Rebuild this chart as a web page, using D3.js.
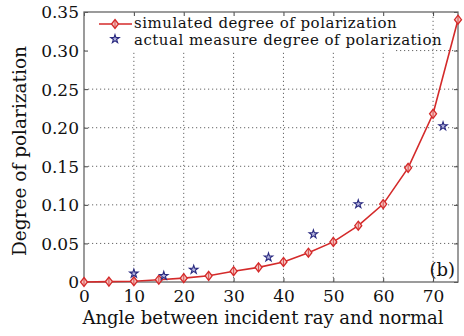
<!DOCTYPE html>
<html>
<head>
<meta charset="utf-8">
<script src="https://cdn.jsdelivr.net/npm/d3@7"></script>
<style>
  body { margin: 0; background: #fff; }
  svg text { font-family: "DejaVu Serif", serif; fill: #111; }
  .grid line { stroke: #555; stroke-dasharray: 1.2,2.8; stroke-width: 0.9; }
</style>
</head>
<body>
<div id="chart"></div>
<script>
var width = 464, height = 336;
var margin = {left: 84, right: 6, top: 12, bottom: 54};

// simulated curve, every 5 degrees
var sim_angle = [0, 5, 10, 15, 20, 25, 30, 35, 40, 45, 50, 55, 60, 65, 70, 75];
var sim_value = [0, 0.0005, 0.001, 0.003, 0.005, 0.008, 0.014, 0.019, 0.026, 0.038, 0.052, 0.073, 0.101, 0.148, 0.218, 0.34];

// measured points
var meas_angle = [10, 16, 22, 37, 46, 55, 72];
var meas_value = [0.011, 0.008, 0.016, 0.032, 0.062, 0.101, 0.202];

var x_ticks = [0, 10, 20, 30, 40, 50, 60, 70];
var y_ticks = [0, 0.05, 0.10, 0.15, 0.20, 0.25, 0.30, 0.35];

var legend_labels = ["simulated degree of polarization", "actual measure degree of polarization"];

var svg = d3.select("#chart").append("svg")
    .attr("width", width)
    .attr("height", height);

var x = d3.scaleLinear().domain([0, 75]).range([margin.left, width - margin.right]);
var y = d3.scaleLinear().domain([0, 0.35]).range([height - margin.bottom, margin.top]);

var x0 = x.range()[0], x1 = x.range()[1], y0 = y.range()[0], y1 = y.range()[1];

// grid
var grid = svg.append("g").attr("class", "grid");
grid.selectAll(".gx").data(x_ticks.slice(1))
  .enter().append("line")
    .attr("x1", function(d){ return x(d); }).attr("x2", function(d){ return x(d); })
    .attr("y1", y0).attr("y2", y1);
grid.selectAll(".gy").data(y_ticks.slice(1, -1))
  .enter().append("line")
    .attr("y1", function(d){ return y(d); }).attr("y2", function(d){ return y(d); })
    .attr("x1", x0).attr("x2", x1);

// legend background hides the grid (no border)
svg.append("rect")
    .attr("x", x0 + 1).attr("y", y1 + 1)
    .attr("width", 311).attr("height", 39)
    .attr("fill", "#fff");

// axes (ticks inward, mirrored)
function fmtY(d){ return d == 0 ? "0" : d.toFixed(2); }

var xAxis = svg.append("g")
    .attr("transform", "translate(0," + y0 + ")")
    .call(d3.axisBottom(x).tickValues(x_ticks).tickSizeInner(-4).tickSizeOuter(0).tickPadding(8));
var xTop = svg.append("g")
    .attr("transform", "translate(0," + y1 + ")")
    .call(d3.axisTop(x).tickValues(x_ticks).tickSizeInner(-4).tickSizeOuter(0).tickFormat(""));
var yAxis = svg.append("g")
    .attr("transform", "translate(" + x0 + ",0)")
    .call(d3.axisLeft(y).tickValues(y_ticks).tickSizeInner(-4).tickSizeOuter(0).tickPadding(5).tickFormat(fmtY));
var yRight = svg.append("g")
    .attr("transform", "translate(" + x1 + ",0)")
    .call(d3.axisRight(y).tickValues(y_ticks).tickSizeInner(-4).tickSizeOuter(0).tickFormat(""));

svg.selectAll(".domain").remove();
svg.selectAll(".tick line").attr("stroke", "#444");
svg.selectAll(".tick text").style("font-size", "17px").attr("fill", "#111");
yAxis.selectAll(".tick text").attr("dy", "0.35em");

// frame
svg.append("rect")
    .attr("x", x0).attr("y", y1)
    .attr("width", x1 - x0).attr("height", y0 - y1)
    .attr("fill", "none").attr("stroke", "#666").attr("stroke-width", 1.3);

// simulated line
var sim = sim_angle.map(function(a, i){ return {a: a, v: sim_value[i]}; });
var line = d3.line()
    .x(function(d){ return x(d.a); })
    .y(function(d){ return y(d.v); });

svg.append("path")
    .datum(sim)
    .attr("fill", "none")
    .attr("stroke", "#d42a2a")
    .attr("stroke-width", 1.6)
    .attr("d", line);

var diamond = "M0,-4.5L3.5,0L0,4.5L-3.5,0Z";
function drawMarker(sel){
  sel.append("path").attr("d", diamond)
    .attr("fill", "#f4c4c0").attr("stroke", "#d42a2a").attr("stroke-width", 1.3);
  sel.append("line").attr("y1", -4).attr("y2", 4)
    .attr("stroke", "#d42a2a").attr("stroke-width", 0.8);
}

svg.selectAll(".sim-marker")
    .data(sim)
  .enter().append("g")
    .attr("class", "sim-marker")
    .attr("transform", function(d){ return "translate(" + x(d.a) + "," + y(d.v) + ")"; })
    .call(drawMarker);

// measured stars
var star = d3.symbol().type(d3.symbolStar).size(22);
svg.selectAll(".meas")
    .data(meas_angle.map(function(a, i){ return {a: a, v: meas_value[i]}; }))
  .enter().append("path")
    .attr("class", "meas")
    .attr("transform", function(d){ return "translate(" + x(d.a) + "," + y(d.v) + ")"; })
    .attr("d", star)
    .attr("fill", "#b8b8e0")
    .attr("stroke", "#2a2a80")
    .attr("stroke-width", 1.1);

// legend
var lg = svg.append("g");
lg.append("line")
    .attr("x1", 99).attr("x2", 132).attr("y1", 24).attr("y2", 24)
    .attr("stroke", "#d42a2a").attr("stroke-width", 1.6);
lg.append("g").attr("transform", "translate(115,24)").call(drawMarker);
lg.append("path")
    .attr("transform", "translate(115,39)")
    .attr("d", star)
    .attr("fill", "#b8b8e0").attr("stroke", "#2a2a80").attr("stroke-width", 1.1);
lg.selectAll(".lg-text")
    .data(legend_labels)
  .enter().append("text")
    .attr("x", 134)
    .attr("y", function(d, i){ return 23 + i * 17; })
    .attr("dy", "0.35em")
    .style("font-size", "15px")
    .style("letter-spacing", "0.5px")
    .text(function(d){ return d; });

// (b) label
svg.append("text")
    .attr("x", 455).attr("y", 270)
    .attr("text-anchor", "end")
    .attr("dy", "0.35em")
    .style("font-size", "18px")
    .text("(b)");

// axis titles
svg.append("text")
    .attr("x", (x0 + x1) / 2 - 8)
    .attr("y", 324)
    .attr("text-anchor", "middle")
    .style("font-size", "18px")
    .text("Angle between incident ray and normal");

svg.append("text")
    .attr("transform", "translate(26," + ((y0 + y1) / 2 + 4) + ") rotate(-90)")
    .attr("text-anchor", "middle")
    .style("font-size", "18.5px")
    .text("Degree of polarization");
</script>
</body>
</html>
